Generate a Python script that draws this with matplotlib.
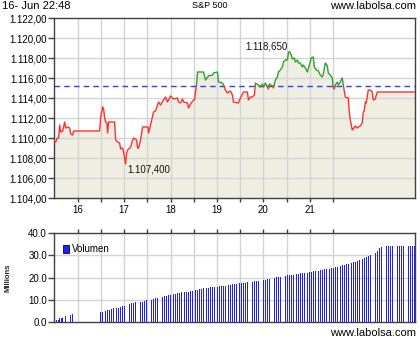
import numpy as np
import matplotlib
matplotlib.use("Agg")
import matplotlib.pyplot as plt
from matplotlib.ticker import FixedLocator, FuncFormatter
from matplotlib.patches import Rectangle

plt.rcParams['font.family'] = ['Liberation Sans', 'DejaVu Sans']

# ---- data ----
price_t = [15.484, 15.527, 15.560, 15.590, 15.613, 15.634, 15.677, 15.720, 15.742, 15.785,
           15.828, 15.849, 15.892, 15.914, 16.473, 16.495, 16.538, 16.559, 16.581, 16.602,
           16.630, 16.645, 16.667, 16.796, 16.817, 16.860, 16.903, 16.925, 16.968, 16.989,
           17.032, 17.054, 17.075, 17.140, 17.183, 17.204, 17.269, 17.290, 17.312, 17.355,
           17.398, 17.516, 17.527, 17.570, 17.634, 17.677, 17.742, 17.785, 17.849, 17.892,
           17.935, 18.000, 18.065, 18.151, 18.172, 18.215, 18.258, 18.280, 18.366, 18.387,
           18.430, 18.495, 18.516, 18.559, 18.581, 18.710, 18.753, 18.817, 18.903, 18.925,
           19.011, 19.032, 19.118, 19.140, 19.183, 19.226, 19.247, 19.290, 19.333, 19.355,
           19.462, 19.505, 19.570, 19.613, 19.656, 19.677, 19.720, 19.763, 19.806, 19.828,
           19.892, 19.935, 19.978, 20.000, 20.043, 20.086, 20.108, 20.129, 20.194, 20.215,
           20.258, 20.301, 20.323, 20.366, 20.409, 20.430, 20.473, 20.516, 20.538, 20.559,
           20.602, 20.624, 20.667, 20.688, 20.731, 20.753, 20.796, 20.839, 20.860, 20.903,
           20.946, 20.989, 21.032, 21.075, 21.097, 21.140, 21.183, 21.226, 21.269, 21.290,
           21.333, 21.355, 21.376, 21.398, 21.441, 21.484, 21.495, 21.505, 21.527, 21.548,
           21.591, 21.613, 21.656, 21.699, 21.710, 21.720, 21.763, 21.828, 21.849, 21.871,
           21.914, 21.935, 21.978, 22.022, 22.043, 22.086, 22.129, 22.151, 22.172, 22.194,
           22.215, 22.258, 22.301, 22.344, 22.366, 22.409, 22.452, 23.290]
price_v = [1109.7, 1109.6, 1110.0, 1110.0, 1111.3, 1110.6, 1110.7, 1111.6, 1111.0, 1111.1,
           1111.0, 1110.4, 1110.3, 1110.7, 1110.7, 1112.1, 1113.1, 1112.9, 1112.0, 1111.6,
           1111.5, 1110.5, 1111.6, 1111.6, 1109.8, 1109.6, 1109.5, 1108.9, 1109.0, 1108.6,
           1107.4, 1108.5, 1108.8, 1109.1, 1109.8, 1110.0, 1109.8, 1109.0, 1109.0, 1109.8,
           1111.1, 1111.1, 1110.5, 1111.3, 1112.6, 1112.7, 1113.6, 1113.3, 1113.8, 1114.1,
           1113.6, 1114.2, 1113.9, 1114.0, 1113.6, 1113.5, 1113.9, 1113.6, 1113.5, 1113.0,
           1113.4, 1113.8, 1113.8, 1115.3, 1116.6, 1116.6, 1115.8, 1116.2, 1116.3, 1116.5,
           1116.6, 1115.6, 1115.5, 1115.3, 1114.8, 1114.5, 1114.6, 1114.7, 1114.3, 1113.6,
           1113.5, 1114.0, 1114.6, 1114.6, 1114.6, 1113.8, 1114.1, 1114.1, 1114.3, 1115.5,
           1115.3, 1115.1, 1115.4, 1115.1, 1115.5, 1115.1, 1114.9, 1115.4, 1115.2, 1115.0,
           1115.8, 1116.1, 1116.6, 1116.8, 1117.1, 1117.6, 1117.8, 1117.8, 1118.5, 1118.65,
           1118.3, 1117.9, 1118.0, 1117.6, 1117.8, 1117.5, 1117.5, 1117.1, 1117.3, 1117.0,
           1116.6, 1117.3, 1118.0, 1118.1, 1117.1, 1116.8, 1116.7, 1116.3, 1116.1, 1116.4,
           1117.5, 1117.4, 1117.2, 1116.5, 1116.3, 1116.0, 1115.3, 1115.0, 1114.9, 1115.3,
           1115.6, 1115.3, 1115.6, 1116.0, 1115.6, 1115.3, 1114.1, 1114.0, 1112.6, 1111.8,
           1110.8, 1110.9, 1111.2, 1111.0, 1111.1, 1111.2, 1111.5, 1112.6, 1112.7, 1113.6,
           1113.5, 1114.8, 1114.8, 1114.6, 1113.8, 1113.9, 1114.6, 1114.6]
prev_close = 1115.2
max_label = "1.118,650"
min_label = "1.107,400"

vol1_t = [15.548, 15.581, 15.613, 15.645, 15.677, 15.742, 15.849, 15.886, 15.920]
vol1_v = [0.8, 1.0, 1.8, 2.0, 2.0, 2.7, 3.3, 3.6, 3.6]
vol2_start, vol2_end = 16.495, 23.260
vol2_v = [4.4, 4.6, 4.9, 5.4, 5.5, 5.8, 6.1, 6.2, 6.5, 6.9,
          7.0, 7.3, 7.6, 8.0, 8.4, 8.7, 8.8, 8.9, 9.0, 9.2,
          9.6, 9.8, 10.0, 10.1, 10.3, 10.6, 10.8, 11.0, 11.2, 11.5,
          11.7, 12.0, 12.3, 12.6, 12.7, 13.0, 13.2, 13.3, 13.4, 13.6,
          13.7, 13.9, 14.1, 14.3, 14.5, 14.8, 15.0, 15.1, 15.3, 15.4,
          15.6, 15.8, 15.9, 15.9, 16.0, 16.2, 16.4, 16.4, 16.5, 16.6,
          16.9, 17.1, 17.3, 17.4, 17.5, 17.6, 17.7, 17.9, 18.0, 18.1,
          18.3, 18.5, 18.6, 18.8, 18.9, 19.0, 19.2, 19.3, 19.6, 19.9,
          20.1, 20.2, 20.4, 20.6, 20.7, 20.9, 21.0, 21.1, 21.3, 21.5,
          21.7, 21.8, 22.0, 22.1, 22.2, 22.4, 22.6, 22.7, 22.9, 23.1,
          23.3, 23.4, 23.6, 23.7, 23.8, 24.1, 24.3, 24.5, 24.8, 25.0,
          25.4, 25.7, 25.9, 26.2, 26.5, 26.8, 27.1, 27.4, 27.8, 28.3,
          28.7, 29.2, 29.6, 30.1, 30.6, 31.1, 32.0, 33.1, 33.8, 34.2,
          34.2, 34.3, 34.2, 34.2, 34.3, 34.2, 34.2, 34.3, 34.2, 34.2,
          34.2, 34.2, 34.3, 34.2]

day_labels = [16, 17, 18, 19, 20, 21]
half_days = [16, 16.5, 17, 17.5, 18, 18.5, 19, 19.5, 20, 20.5, 21, 21.5]
price_ticks = [1104, 1106, 1108, 1110, 1112, 1114, 1116, 1118, 1120, 1122]
vol_ticks = [0, 10, 20, 30, 40]

# ---- figure ----
W, H = 420, 340
fig = plt.figure(figsize=(W / 100, H / 100), dpi=100)
fig.patch.set_facecolor('white')

def rect(l, t, r, b):
    return [l / W, 1 - b / H, (r - l) / W, (b - t) / H]

XMIN, XMAX = 15.49, 23.265
GRID = '#d4d4d4'
SPINE = '#404040'

ax = fig.add_axes(rect(54, 18, 415, 198))
ax.set_xlim(XMIN, XMAX)
ax.set_ylim(price_ticks[0], price_ticks[-1])

t = np.array(price_t, float)
v = np.array(price_v, float)
xs, ys = [t[0]], [v[0]]
for i in range(1, len(t)):
    if (v[i - 1] - prev_close) * (v[i] - prev_close) < 0:
        f = (prev_close - v[i - 1]) / (v[i] - v[i - 1])
        xs.append(t[i - 1] + f * (t[i] - t[i - 1]))
        ys.append(prev_close)
    xs.append(t[i]); ys.append(v[i])
xs = np.array(xs); ys = np.array(ys)

ax.fill_between(xs, ys, price_ticks[0], color='#eeeee2', lw=0, zorder=1)
for xv in half_days:
    ax.axvline(xv, color=GRID, lw=1, zorder=1.5)
for yv in price_ticks[1:-1]:
    ax.axhline(yv, color=GRID, lw=1, zorder=1.5)
ax.axhline(prev_close, color='#3a3aff', lw=1, ls=(0, (4, 3)), zorder=2)
ax.plot(xs, np.where(ys <= prev_close + 1e-9, ys, np.nan), color='#ff3030', lw=1, zorder=3)
ax.plot(xs, np.where(ys >= prev_close - 1e-9, ys, np.nan), color='#2ea02e', lw=1, zorder=3)

imax = int(np.argmax(v)); imin = int(np.argmin(v))
ax.annotate(max_label, (t[imax], v[imax]), xytext=(-44, 5), textcoords='offset pixels',
            fontsize=7, va='center', ha='left', color='#111111')
ax.annotate(min_label, (t[imin], v[imin]), xytext=(2, -6), textcoords='offset pixels',
            fontsize=7, va='center', ha='left', color='#111111')

ax.xaxis.set_major_locator(FixedLocator(day_labels))
ax.xaxis.set_minor_locator(FixedLocator([h for h in half_days if h not in day_labels]))
ax.xaxis.set_major_formatter(FuncFormatter(lambda x, p: f"{int(round(x))}"))
ax.yaxis.set_major_locator(FixedLocator(price_ticks))
ax.yaxis.set_major_formatter(FuncFormatter(
    lambda y, p: f"{y:,.2f}".replace(",", "X").replace(".", ",").replace("X", ".")))
ax.tick_params(axis='x', which='both', direction='out', length=3, width=1, color=SPINE,
               labelsize=7, pad=2)
ax.tick_params(axis='y', direction='out', length=4, width=1, color=SPINE, labelsize=7, pad=1)
for s in ax.spines.values():
    s.set_color(SPINE); s.set_linewidth(1)
ax.set_facecolor('white')

# ---- volume ----
axv = fig.add_axes(rect(54, 233, 415, 322))
axv.set_xlim(XMIN, XMAX)
axv.set_ylim(vol_ticks[0], vol_ticks[-1])
for xv in half_days:
    axv.axvline(xv, color=GRID, lw=1, zorder=1)
for yv in vol_ticks[1:-1]:
    axv.axhline(yv, color=GRID, lw=1, zorder=1)
bw = 0.02
axv.bar(vol1_t, vol1_v, width=bw, color='#2020ff', lw=0, zorder=2)
vol2_t = np.linspace(vol2_start, vol2_end, len(vol2_v))
axv.bar(vol2_t, vol2_v, width=bw, color='#2020ff', lw=0, zorder=2)

axv.xaxis.set_major_locator(FixedLocator(half_days))
axv.xaxis.tick_top()
axv.tick_params(axis='x', direction='out', length=3, width=1, color=SPINE, labeltop=False,
                labelbottom=False)
axv.yaxis.set_major_locator(FixedLocator(vol_ticks))
axv.yaxis.set_major_formatter(FuncFormatter(lambda y, p: f"{y:.1f}"))
axv.tick_params(axis='y', direction='out', length=4, width=1, color=SPINE, labelsize=7, pad=1)
for s in axv.spines.values():
    s.set_color(SPINE); s.set_linewidth(1)
axv.set_ylabel("Millions", fontsize=5.5, fontweight='bold', labelpad=12, color='#222222')

axv.add_patch(Rectangle((0.024, 0.78), 0.017, 0.08, transform=axv.transAxes,
                        facecolor='#2020ff', edgecolor='#000050', lw=0.6, zorder=5))
axv.text(0.05, 0.82, "Volumen", transform=axv.transAxes, fontsize=7, va='center',
         ha='left', zorder=5)

# ---- header / footer ----
fig.text(2 / W, 1 - 6 / H, "16- Jun 22:48", fontsize=8, va='center', ha='left')
fig.text(210 / W, 1 - 6 / H, "S&P 500", fontsize=6.5, va='center', ha='center')
fig.text(416 / W, 1 - 6 / H, "www.labolsa.com", fontsize=8, va='center', ha='right')
fig.text(416 / W, 1 - 333 / H, "www.labolsa.com", fontsize=8, va='center', ha='right')

fig.savefig("out.png", dpi=100, facecolor='white')
